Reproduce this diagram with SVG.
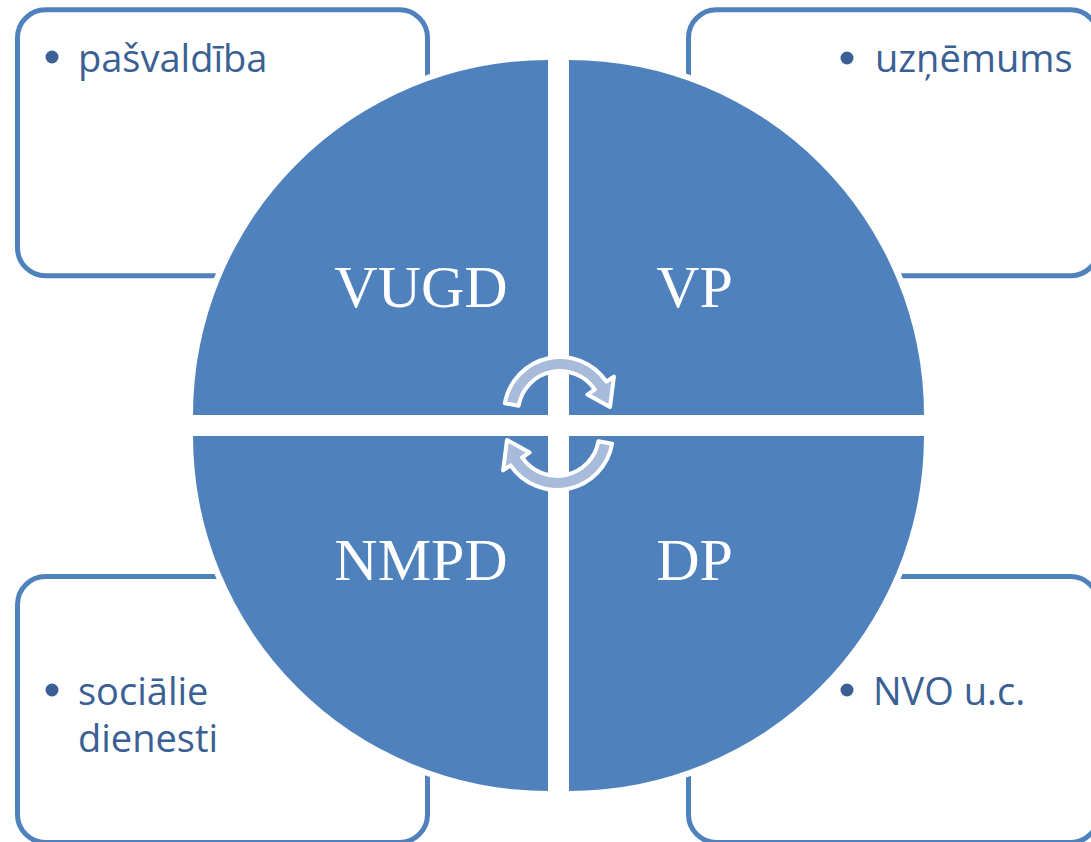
<svg xmlns="http://www.w3.org/2000/svg" width="1091" height="842" viewBox="0 0 1091 842">
  <style>
    .box { fill: #FFFFFF; stroke: #4F81BD; stroke-width: 5; }
    .btxt { font-family: "Open Sans", "Noto Sans", sans-serif; font-size: 38px; fill: #3A6094; }
    .bul { fill: #3A6094; }
    .quad { fill: #4F81BD; stroke: #FFFFFF; stroke-width: 12; paint-order: stroke; stroke-linejoin: miter; }
    .qtxt { font-family: "Liberation Serif", "Times New Roman", serif; font-size: 60px; fill: #FFFFFF; text-anchor: middle; }
    .arr { fill: #A9BBDB; stroke: #FFFFFF; stroke-width: 4; stroke-linejoin: round; }
  </style>
  <rect width="1091" height="842" fill="#FFFFFF"/>

  <g id="box-tl">
    <rect class="box" x="17.5" y="9.8" width="410" height="266" rx="28"/>
    <circle class="bul" cx="52" cy="57" r="6.5"/>
    <text class="btxt" x="78" y="72">pašvaldība</text>
  </g>
  <g id="box-tr">
    <rect class="box" x="688.5" y="9.8" width="410" height="266" rx="28"/>
    <circle class="bul" cx="847" cy="58" r="6.5"/>
    <text class="btxt" x="875" y="72">uzņēmums</text>
  </g>
  <g id="box-bl">
    <rect class="box" x="17.5" y="576.5" width="410" height="266" rx="28"/>
    <circle class="bul" cx="52" cy="690" r="6.5"/>
    <text class="btxt" x="78" y="705">sociālie</text>
    <text class="btxt" x="78" y="752">dienesti</text>
  </g>
  <g id="box-br">
    <rect class="box" x="688.5" y="576.5" width="410" height="266" rx="28"/>
    <circle class="bul" cx="847" cy="690" r="6.5"/>
    <text class="btxt" x="873" y="705">NVO u.c.</text>
  </g>

  <g id="quad-vugd">
    <path class="quad" d="M548,415 L193,415 A355,355 0 0 1 548,60 Z"/>
    <text class="qtxt" x="421" y="307">VUGD</text>
  </g>
  <g id="quad-vp">
    <path class="quad" d="M569,415 L569,60 A355,355 0 0 1 924,415 Z"/>
    <text class="qtxt" x="694.5" y="307">VP</text>
  </g>
  <g id="quad-dp">
    <path class="quad" d="M569,436 L924,436 A355,355 0 0 1 569,791 Z"/>
    <text class="qtxt" x="694.5" y="580">DP</text>
  </g>
  <g id="quad-nmpd">
    <path class="quad" d="M548,436 L548,791 A355,355 0 0 1 193,436 Z"/>
    <text class="qtxt" x="421" y="580">NMPD</text>
  </g>

  <g id="connectors">
    <path class="arr" d="M504.85,403.28 A56,56 0 0 1 606.42,381.68 L613.89,376.65 L610,407 L587.36,394.55 L594.82,389.51 A42,42 0 0 0 518.64,405.71 Z"/>
    <path class="arr" d="M612.15,443.72 A56,56 0 0 1 510.58,465.32 L503.11,470.35 L507,440 L529.64,452.45 L522.18,457.49 A42,42 0 0 0 598.36,441.29 Z"/>
  </g>
</svg>
